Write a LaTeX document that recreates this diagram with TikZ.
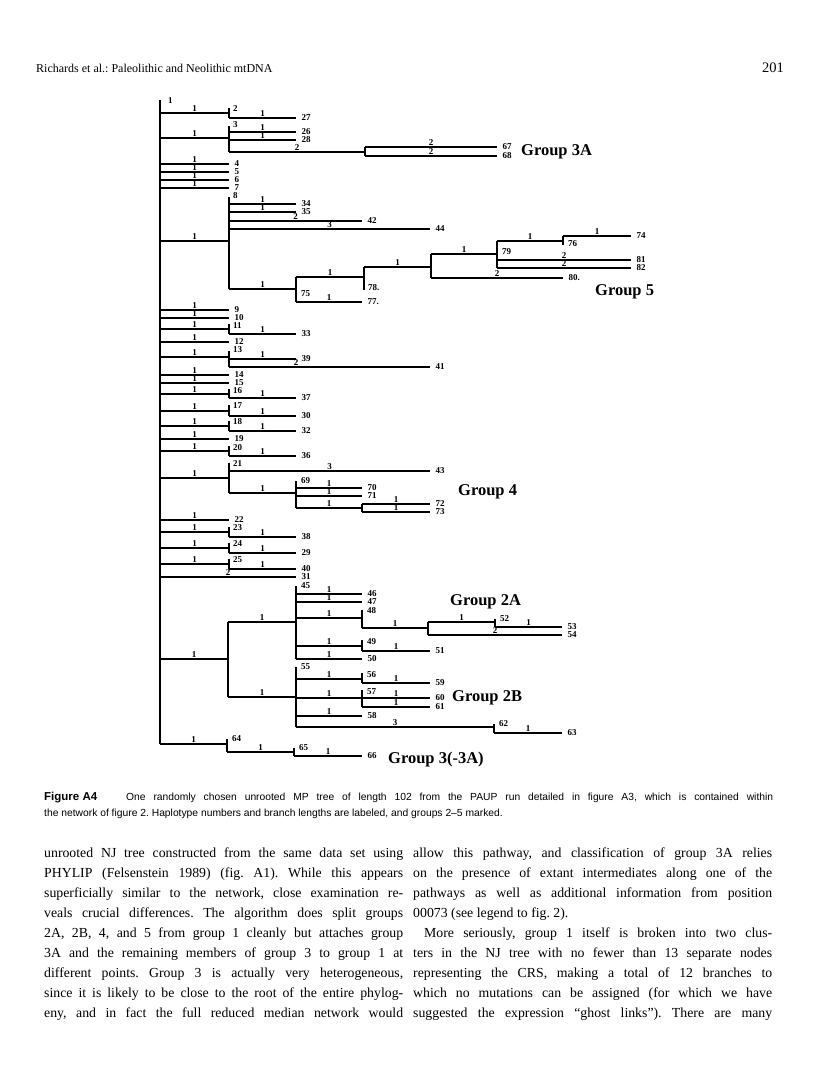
\documentclass[tikz,border=0pt]{standalone}
\usepackage{fontspec}
\setmainfont{Liberation Serif}
\setsansfont{Liberation Sans}
\newcommand\hb[4]{\draw[br] (#1,#3) -- node[blab]{#4} (#2,#3);}
\newcommand\lf[5]{\draw[br] (#1,#3) -- node[blab]{#4} (#2,#3) node[tlab]{#5};}
\newcommand\vb[3]{\draw[br] (#1,#2) -- (#1,#3);}
\newcommand\il[3]{\node[ilab] at (#1,#2) {#3};}
\newcommand\bl[2]{\node[bodyl] at (#1) {\makebox[359pt][s]{#2}};}
\begin{document}
\frenchspacing
\begin{tikzpicture}[x=1pt,y=-1pt,
 br/.style={line width=1.1pt},
 blab/.style={midway,above,inner sep=0.6pt,font=\fontsize{9}{9}\selectfont\bfseries},
 tlab/.style={anchor=west,inner sep=0pt,xshift=5pt,font=\fontsize{9}{9}\selectfont\bfseries},
 ilab/.style={anchor=west,inner sep=0pt,font=\fontsize{9}{9}\selectfont\bfseries},
 grp/.style={anchor=west,inner sep=0pt,font=\fontsize{16.5}{16.5}\selectfont\bfseries},
 bodyl/.style={anchor=base west,inner sep=0pt,font=\fontsize{13.8}{13.8}\selectfont},
 captext/.style={anchor=base west,inner sep=0pt,font=\sffamily\fontsize{10.3}{10.3}\selectfont},
]
\useasboundingbox (0,0) rectangle (816,1081);
\fill[white] (0,0) rectangle (816,1081);

% header
\node[anchor=base west,inner sep=0pt,font=\fontsize{12}{12}\selectfont] (hdr) at (36,73) {Richards et al.: Paleolithic and Neolithic mtDNA};
\node[anchor=base east,inner sep=0pt,font=\fontsize{14.5}{14.5}\selectfont] (pg) at (784,73) {201};

% root
\vb{160}{100}{744}
\il{168}{101}{1}

% node 2
\hb{160}{229}{113}{1}
\vb{229}{108}{118}
\il{233}{109}{2}
\lf{229}{296}{118}{1}{27}

% node 3
\hb{160}{229}{138}{1}
\vb{229}{126}{152}
\il{233}{125}{3}
\lf{229}{296}{132}{1}{26}
\lf{229}{296}{140}{1}{28}
\hb{229}{365}{152}{2}
\vb{365}{147}{156}
\lf{365}{497}{147}{2}{67}
\lf{365}{497}{156}{2}{68}
\node[grp] (g3a) at (521,152) {Group 3A};

% 4-7
\lf{160}{229}{164}{1}{4}
\lf{160}{229}{172}{1}{5}
\lf{160}{229}{180}{1}{6}
\lf{160}{229}{188}{1}{7}

% node 8
\hb{160}{229}{241}{1}
\vb{229}{197}{289}
\il{233}{196}{8}
\lf{229}{296}{204}{1}{34}
\lf{229}{296}{212}{1}{35}
\lf{229}{362}{221}{2}{42}
\lf{229}{430}{229}{3}{44}
\hb{229}{296}{289}{1}
\vb{296}{277}{302}
\il{301}{294}{75}
\hb{296}{364}{277}{1}
\lf{296}{362}{302}{1}{77.}
\vb{364}{267}{290}
\il{368}{288}{78.}
\hb{364}{431}{267}{1}
\vb{431}{254}{278}
\hb{431}{497}{254}{1}
\lf{431}{563}{278}{2}{80.}
\vb{497}{241}{268}
\il{502}{252}{79}
\hb{497}{563}{241}{1}
\lf{497}{631}{260}{2}{81}
\lf{497}{631}{268}{2}{82}
\vb{563}{236}{245}
\il{568}{244}{76}
\lf{563}{631}{236}{1}{74}
\node[grp] (g5) at (595,292) {Group 5};

% 9-20
\lf{160}{229}{310}{1}{9}
\lf{160}{229}{318}{1}{10}
\hb{160}{229}{329}{1}
\vb{229}{324}{334}
\il{233}{326}{11}
\lf{229}{296}{334}{1}{33}
\lf{160}{229}{342}{1}{12}
\hb{160}{229}{357}{1}
\vb{229}{351}{367}
\il{233}{350}{13}
\lf{229}{296}{359}{1}{39}
\lf{229}{430}{367}{}{41}
\node[ilab,anchor=center] at (296,363) {2};
\lf{160}{229}{375}{1}{14}
\lf{160}{229}{383}{1}{15}
\hb{160}{229}{394}{1}
\vb{229}{389}{398}
\il{233}{391}{16}
\lf{229}{296}{398}{1}{37}
\hb{160}{229}{411}{1}
\vb{229}{405}{416}
\il{233}{406}{17}
\lf{229}{296}{416}{1}{30}
\hb{160}{229}{426}{1}
\vb{229}{421}{431}
\il{233}{422}{18}
\lf{229}{296}{431}{1}{32}
\lf{160}{229}{439}{1}{19}
\hb{160}{229}{451}{1}
\vb{229}{446}{456}
\il{233}{448}{20}
\lf{229}{296}{456}{1}{36}

% node 21
\hb{160}{229}{478}{1}
\vb{229}{463}{493}
\il{233}{464}{21}
\lf{229}{430}{471}{3}{43}
\hb{229}{296}{493}{1}
\vb{296}{481}{508}
\il{301}{481}{69}
\lf{296}{362}{488}{1}{70}
\lf{296}{362}{496}{1}{71}
\hb{296}{362}{508}{1}
\vb{362}{504}{512}
\lf{362}{430}{504}{1}{72}
\lf{362}{430}{512}{1}{73}
\node[grp] (g4) at (458,492) {Group 4};

% 22-31
\lf{160}{229}{520}{1}{22}
\hb{160}{229}{532}{1}
\vb{229}{527}{537}
\il{233}{528}{23}
\lf{229}{296}{537}{1}{38}
\hb{160}{229}{548}{1}
\vb{229}{543}{553}
\il{233}{544}{24}
\lf{229}{296}{553}{1}{29}
\hb{160}{229}{564}{1}
\vb{229}{559}{569}
\il{233}{560}{25}
\lf{229}{296}{569}{1}{40}
\lf{160}{296}{577}{2}{31}

% groups 2A / 2B
\hb{160}{228}{659}{1}
\vb{228}{622}{697}
\hb{228}{296}{622}{1}
\vb{296}{586}{659}
\il{301}{586}{45}
\lf{296}{362}{594}{1}{46}
\lf{296}{362}{602}{1}{47}
\hb{296}{362}{618}{1}
\vb{362}{610}{628}
\il{367}{611}{48}
\hb{362}{428}{628}{1}
\vb{428}{622}{635}
\hb{428}{495}{622}{1}
\vb{495}{619}{627}
\il{500}{619}{52}
\lf{495}{562}{627}{1}{53}
\lf{428}{562}{635}{2}{54}
\node[grp] (g2a) at (450,602) {Group 2A};
\hb{296}{362}{646}{1}
\vb{362}{640}{651}
\il{367}{642}{49}
\lf{362}{430}{651}{1}{51}
\lf{296}{362}{659}{1}{50}
\hb{228}{296}{697}{1}
\vb{296}{667}{727}
\il{301}{667}{55}
\hb{296}{362}{679}{1}
\vb{362}{673}{683}
\il{367}{675}{56}
\lf{362}{430}{683}{1}{59}
\hb{296}{362}{698}{1}
\vb{362}{690}{707}
\il{367}{692}{57}
\lf{362}{430}{698}{1}{60}
\lf{362}{430}{707}{1}{61}
\lf{296}{362}{716}{1}{58}
\hb{296}{494}{727}{3}
\vb{494}{724}{733}
\il{499}{724}{62}
\lf{494}{562}{733}{1}{63}
\node[grp] (g2b) at (452,698) {Group 2B};

% 64-66
\hb{160}{227}{744}{1}
\vb{227}{739}{752}
\il{232}{739}{64}
\hb{227}{294}{752}{1}
\vb{294}{748}{756}
\il{299}{748}{65}
\lf{294}{362}{756}{1}{66}
\node[grp] (g3) at (388,760) {Group 3(-3A)};

% caption
\node[anchor=base west,inner sep=0pt,font=\sffamily\bfseries\fontsize{11.5}{11.5}\selectfont] (fig) at (44,800) {Figure A4};
\node[captext] (cap1) at (126,800) {\makebox[647pt][s]{One randomly chosen unrooted MP tree of length 102 from the PAUP run detailed in figure A3, which is contained within}};
\node[captext] (cap2) at (44,816) {the network of figure 2. Haplotype numbers and branch lengths are labeled, and groups 2–5 marked.};

% body, left column
\bl{44,857}{unrooted NJ tree constructed from the same data set using}
\bl{44,877}{PHYLIP (Felsenstein 1989) (fig. A1). While this appears}
\bl{44,897}{superficially similar to the network, close examination re-}
\bl{44,917}{veals crucial differences. The algorithm does split groups}
\bl{44,937}{2A, 2B, 4, and 5 from group 1 cleanly but attaches group}
\bl{44,957}{3A and the remaining members of group 3 to group 1 at}
\bl{44,977}{different points. Group 3 is actually very heterogeneous,}
\bl{44,997}{since it is likely to be close to the root of the entire phylog-}
\bl{44,1017}{eny, and in fact the full reduced median network would}

% body, right column
\bl{413,857}{allow this pathway, and classification of group 3A relies}
\bl{413,877}{on the presence of extant intermediates along one of the}
\bl{413,897}{pathways as well as additional information from position}
\node[bodyl] at (413,917) {00073 (see legend to fig. 2).};
\bl{413,937}{\hspace{11pt}More seriously, group 1 itself is broken into two clus-}
\bl{413,957}{ters in the NJ tree with no fewer than 13 separate nodes}
\bl{413,977}{representing the CRS, making a total of 12 branches to}
\bl{413,997}{which no mutations can be assigned (for which we have}
\bl{413,1017}{suggested the expression “ghost links”). There are many}
\end{tikzpicture}
\end{document}
